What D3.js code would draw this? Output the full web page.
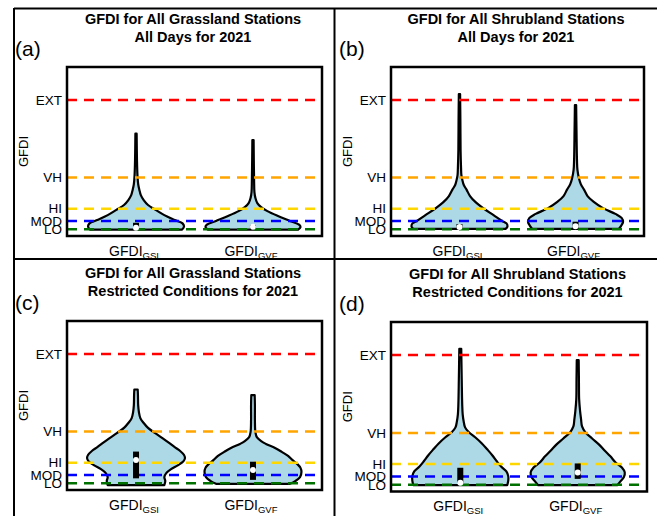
<!DOCTYPE html>
<html>
<head>
<meta charset="utf-8">
<script src="https://cdn.jsdelivr.net/npm/d3@7"></script>
<style>
  body { margin: 0; background: #fff; }
  svg { display: block; font-family: "Liberation Sans", Arial, sans-serif; }
</style>
</head>
<body>
<svg id="chart"></svg>
<script>
// categories and danger levels
const categories = ["GSI", "GVF"];
const levelNames = ["LO", "MOD", "HI", "VH", "EXT"];
const levelValues = [2.2, 4.9, 8.9, 19.0, 44.3];
const levelColors = ["#007000", "#0000ff", "#ffd700", "#ffa500", "#ff0000"];
const yMax = 55;

const panelLetters = ["(a)", "(b)", "(c)", "(d)"];
const titleTop = ["GFDI for All Grassland Stations", "GFDI for All Shrubland Stations",
                  "GFDI for All Grassland Stations", "GFDI for All Shrubland Stations"];
const titleBottom = ["All Days for 2021", "All Days for 2021",
                     "Restricted Conditions for 2021", "Restricted Conditions for 2021"];

// violin profiles: [GFDI value, relative density]
const grassAllGSI = [[2.1,0.96],[3.1,1.0],[4.1,0.97],[5.2,0.81],[6.8,0.59],[8.5,0.41],[10.1,0.25],[11.7,0.16],
  [13.3,0.10],[15.0,0.07],[16.9,0.045],[19.8,0.03],[24.7,0.02],[33.3,0.013]];
const grassAllGVF = [[2.1,0.94],[2.9,0.99],[3.7,0.96],[4.9,0.77],[6.5,0.52],[8.1,0.30],[9.4,0.17],[10.7,0.09],
  [12.4,0.05],[14.3,0.03],[18.2,0.023],[24.7,0.017],[31.2,0.013]];
const shrubAllGSI = [[2.3,0.96],[3.1,1.0],[4.1,0.98],[4.9,0.89],[6.8,0.71],[9.0,0.50],[11.1,0.33],[13.0,0.22],
  [15.0,0.15],[16.6,0.09],[18.2,0.06],[19.8,0.04],[22.1,0.033],[28.0,0.023],[37.7,0.019],[46.2,0.013]];
const shrubAllGVF = [[2.3,0.90],[3.3,0.95],[4.6,0.99],[5.9,0.96],[7.2,0.83],[9.0,0.58],[11.1,0.38],[13.0,0.25],
  [15.0,0.18],[16.9,0.11],[18.9,0.07],[21.5,0.04],[24.7,0.03],[34.5,0.02],[42.6,0.013]];
const grassResGSI = [[1.6,0.59],[2.9,0.61],[4.2,0.59],[5.5,0.63],[6.8,0.73],[8.1,0.88],[9.4,0.99],[10.4,1.02],
  [11.4,1.0],[12.7,0.92],[14.0,0.80],[15.3,0.69],[16.9,0.55],[18.5,0.40],[20.2,0.25],[21.8,0.16],[23.4,0.09],
  [25.4,0.06],[27.6,0.045],[30.9,0.04],[32.7,0.035]];
const grassResGVF = [[2.0,0.77],[2.9,0.88],[4.2,0.98],[5.9,1.01],[7.2,0.99],[8.5,0.92],[9.8,0.82],[11.1,0.73],
  [12.4,0.60],[13.7,0.46],[15.0,0.27],[15.9,0.17],[17.2,0.08],[18.9,0.05],[22.8,0.04],[27.6,0.04],[30.9,0.035]];
const shrubResGSI = [[2.1,0.98],[3.6,1.0],[4.9,1.0],[6.5,0.96],[8.1,0.85],[9.8,0.76],[11.7,0.67],[13.7,0.56],
  [15.6,0.45],[17.6,0.31],[19.2,0.18],[20.8,0.10],[22.8,0.07],[25.0,0.05],[28.3,0.04],[36.4,0.03],[46.3,0.02]];
const shrubResGVF = [[2.1,0.83],[3.3,0.89],[4.6,0.96],[6.2,0.98],[7.8,0.92],[9.4,0.79],[11.4,0.68],[13.3,0.56],
  [15.3,0.44],[17.2,0.30],[19.2,0.16],[21.1,0.09],[23.4,0.07],[26.0,0.05],[29.9,0.03],[36.4,0.025],[42.6,0.02]];

// box stats per category: [q1, median, q3]
const grassAllBox = [[2.6, 2.7, 4.3], [2.3, 3.0, 3.6]];
const shrubAllBox = [[2.4, 2.9, 3.9], [2.4, 3.15, 4.65]];
const grassResBox = [[3.8, 9.8, 12.5], [3.3, 6.5, 9.2]];
const shrubResBox = [[2.8, 2.8, 7.7], [4.1, 6.2, 9.1]];

const violins = [[grassAllGSI, grassAllGVF], [shrubAllGSI, shrubAllGVF],
                 [grassResGSI, grassResGVF], [shrubResGSI, shrubResGVF]];
const boxes = [grassAllBox, shrubAllBox, grassResBox, shrubResBox];

const width = 657;
const height = 516;
const svg = d3.select("#chart").attr("width", width).attr("height", height);

// plot boxes of the four panels
const frames = [
    { left: 67, top: 67, right: 322, bottom: 236 },
    { left: 391, top: 67, right: 644, bottom: 236 },
    { left: 67, top: 321, right: 322, bottom: 490 },
    { left: 391, top: 322, right: 647, bottom: 491.5 }
];

// outer grid lines
const grid = svg.append("g").attr("stroke", "#000").attr("stroke-width", 2);
grid.append("line").attr("x1", 14).attr("x2", 14).attr("y1", 8).attr("y2", height);
grid.append("line").attr("x1", 14).attr("x2", width).attr("y1", 8.5).attr("y2", 8.5);
grid.append("line").attr("x1", 334.5).attr("x2", 334.5).attr("y1", 8).attr("y2", height);
grid.append("line").attr("x1", 14).attr("x2", width).attr("y1", 259).attr("y2", 259);

const wScale = d3.scaleLinear().domain([0, 1]).range([0, 48]);

frames.forEach((f, i) => {
    const g = svg.append("g");
    const y = d3.scaleLinear().domain([0, yMax]).range([f.bottom, f.top]);
    const x = d3.scalePoint().domain(categories).range([f.left, f.right]).padding(0.59);
    const midX = (f.left + f.right) / 2 - 1.5;

    // titles
    g.append("text").attr("x", midX).attr("y", f.top - 43.5)
        .attr("text-anchor", "middle").style("font-size", "14.5px").style("font-weight", "bold")
        .text(titleTop[i]);
    g.append("text").attr("x", midX).attr("y", f.top - 25.5)
        .attr("text-anchor", "middle").style("font-size", "14.5px").style("font-weight", "bold")
        .text(titleBottom[i]);
    g.append("text").attr("x", f.left - 52).attr("y", f.top - 11)
        .style("font-size", "21px").text(panelLetters[i]);

    // violins
    categories.forEach((cat, j) => {
        const cx = x(cat);
        const area = d3.area()
            .y(d => y(d[0]))
            .x0(d => cx - wScale(d[1]))
            .x1(d => cx + wScale(d[1]))
            .curve(d3.curveCatmullRom.alpha(0.5));
        g.append("path")
            .datum(violins[i][j])
            .attr("d", area)
            .attr("fill", "#add8e6")
            .attr("stroke", "#000")
            .attr("stroke-width", 2.2)
            .attr("stroke-linejoin", "round");
    });

    // danger level lines
    g.selectAll(".level")
        .data(levelValues)
        .enter()
        .append("line")
        .attr("x1", f.left).attr("x2", f.right)
        .attr("y1", d => y(d)).attr("y2", d => y(d))
        .attr("stroke", (d, k) => levelColors[k])
        .attr("stroke-width", 2.5)
        .attr("stroke-dasharray", "10,7");

    // inner box plots
    categories.forEach((cat, j) => {
        const [q1, med, q3] = boxes[i][j];
        const cx = x(cat);
        g.append("rect")
            .attr("x", cx - 3).attr("width", 6)
            .attr("y", y(q3)).attr("height", y(q1) - y(q3))
            .attr("fill", "#000");
        g.append("circle")
            .attr("cx", cx).attr("cy", y(med)).attr("r", 3)
            .attr("fill", "#fff");
    });

    // y axis with level names
    const yAxis = g.append("g")
        .attr("transform", `translate(${f.left},0)`)
        .call(d3.axisLeft(y).tickValues(levelValues).tickSize(0).tickPadding(5)
            .tickFormat((d, k) => levelNames[k]));
    yAxis.select(".domain").remove();
    yAxis.selectAll("text").style("font-size", "13.5px").attr("fill", "#000")
        .style("font-family", "'Liberation Sans', Arial, sans-serif");

    g.append("text")
        .attr("transform", `translate(${f.left - 39},${(f.top + f.bottom) / 2}) rotate(-90)`)
        .attr("text-anchor", "middle")
        .style("font-size", "13px")
        .text("GFDI");

    // x labels with subscripts
    categories.forEach(cat => {
        const t = g.append("text")
            .attr("x", x(cat) - 2).attr("y", f.bottom + 19.5)
            .attr("text-anchor", "middle").style("font-size", "14px");
        t.append("tspan").text("GFDI");
        t.append("tspan").attr("dy", 3).style("font-size", "9.5px").text(cat);
    });

    // plot frame
    g.append("rect")
        .attr("x", f.left).attr("y", f.top)
        .attr("width", f.right - f.left).attr("height", f.bottom - f.top)
        .attr("fill", "none").attr("stroke", "#000").attr("stroke-width", 2.5);
});
</script>
</body>
</html>
